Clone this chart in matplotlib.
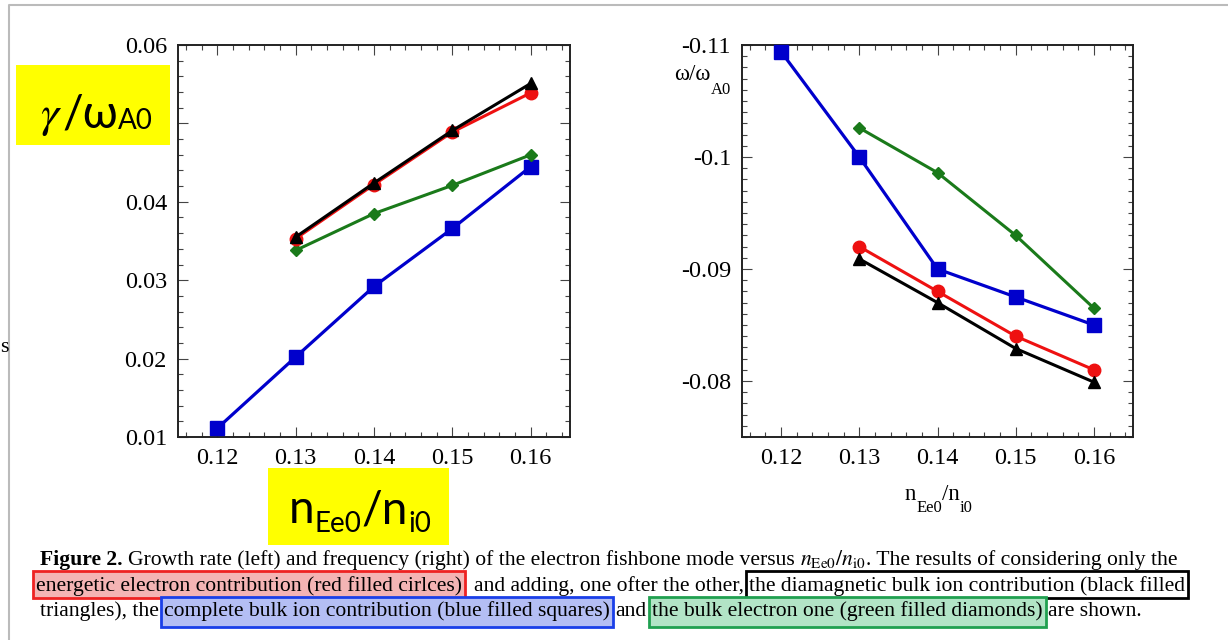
import matplotlib
matplotlib.use("Agg")
import matplotlib.pyplot as plt
from matplotlib.ticker import MultipleLocator, FuncFormatter
from matplotlib.patches import Rectangle
from matplotlib.lines import Line2D

# n_Ee0 / n_i0 values
x_all = [0.12, 0.13, 0.14, 0.15, 0.16]
x_short = [0.13, 0.14, 0.15, 0.16]

# growth rate gamma/omega_A0 (left)
gam_energetic = [0.0353, 0.0422, 0.0489, 0.0539]          # red circles
gam_diamag = [0.0355, 0.0424, 0.0491, 0.0551]             # black triangles
gam_bulk_ion = [0.0111, 0.0202, 0.0292, 0.0366, 0.0445]   # blue squares
gam_bulk_el = [0.0338, 0.0385, 0.0421, 0.0460]            # green diamonds

# frequency omega/omega_A0 (right)
om_energetic = [-0.0920, -0.0880, -0.0840, -0.0810]
om_diamag = [-0.0909, -0.0870, -0.0829, -0.0799]
om_bulk_ion = [-0.1094, -0.1000, -0.0900, -0.0875, -0.0850]
om_bulk_el = [-0.1026, -0.0986, -0.0930, -0.0865]

# tick label hidden behind the yellow box in the original
hidden_ticks = [0.05]

W, H = 1228, 640
plt.rcParams['font.family'] = ['Liberation Serif', 'DejaVu Sans']
plt.rcParams['mathtext.fontset'] = 'stix'
SANS = ['Lato', 'Open Sans', 'DejaVu Sans']

fig = plt.figure(figsize=(W / 100, H / 100), dpi=100)
renderer = fig.canvas.get_renderer()


def fx(px):
    return px / W


def fy(py):
    return 1 - py / H


def tick_fmt(v, p):
    v = round(v, 4)
    if v in hidden_ticks:
        return ''
    return '%g' % v


def style_axes(ax, ymin, ymax, yminor):
    ax.set_xlim(0.115, 0.165)
    ax.set_ylim(ymin, ymax)
    ax.xaxis.set_major_locator(MultipleLocator(0.01))
    ax.xaxis.set_minor_locator(MultipleLocator(0.002))
    ax.yaxis.set_major_locator(MultipleLocator(0.01))
    ax.yaxis.set_minor_locator(MultipleLocator(yminor))
    ax.xaxis.set_major_formatter(FuncFormatter(tick_fmt))
    ax.yaxis.set_major_formatter(FuncFormatter(tick_fmt))
    ax.tick_params(which='both', direction='in', top=True, right=True, labelsize=17.5,
                   colors='#444444', labelcolor='black')
    ax.tick_params(which='major', length=7, width=0.8)
    ax.tick_params(which='minor', length=3.5, width=0.8)
    ax.tick_params(axis='x', pad=8)
    ax.tick_params(axis='y', pad=8)
    for s in ax.spines.values():
        s.set_linewidth(1.4)
        s.set_color('#222222')


def draw_series(ax, blue, green, red, black):
    ax.plot(x_all, blue, '-s', color='#0000CC', lw=2.3, ms=9.5, clip_on=False, zorder=3)
    ax.plot(x_short, green, '-D', color='#1A7A1A', lw=2.2, ms=6.5, clip_on=False, zorder=3)
    ax.plot(x_short, red, '-o', color='#EE1111', lw=2.2, ms=9, clip_on=False, zorder=4)
    ax.plot(x_short, black, '-^', color='black', lw=2.2, ms=8.5, clip_on=False, zorder=5)


ax1 = fig.add_axes([fx(178), fy(437), fx(570) - fx(178), fy(45) - fy(437)])
style_axes(ax1, 0.01, 0.06, 0.002)
draw_series(ax1, gam_bulk_ion, gam_bulk_el, gam_energetic, gam_diamag)

ax2 = fig.add_axes([fx(742), fy(437), fx(1133) - fx(742), fy(45) - fy(437)])
style_axes(ax2, -0.075, -0.11, 0.001)
draw_series(ax2, om_bulk_ion, om_bulk_el, om_energetic, om_diamag)


def chain(pieces, x0):
    # pieces: (text, size, baseline_px, kwargs), laid out left to right
    x = x0
    for s, size, yb, kw in pieces:
        t = fig.text(fx(x), fy(yb), s, fontsize=size, va='baseline', zorder=6, **kw)
        x += t.get_window_extent(renderer).width
    return x


# right axis labels (plotting-program style with deep subscripts)
chain([('ω/ω', 16.5, 80, {}), ('A0', 12, 94, {})], 674)
chain([('n', 16.5, 500, {}), ('Ee0', 12, 512, {}), ('/n', 16.5, 500, {}), ('i0', 12, 512, {})], 905)

# yellow label boxes
fig.add_artist(Rectangle((fx(16), fy(145)), fx(170) - fx(16), fy(65) - fy(145),
                         transform=fig.transFigure, fc='#FFFF00', ec='none', zorder=5))
chain([(r'$\gamma$', 33, 127, {}), ('/ω', 33, 127, dict(family=SANS)),
       ('A0', 20, 129, dict(family=SANS))], 40)
fig.add_artist(Rectangle((fx(268), fy(545)), fx(449) - fx(268), fy(468) - fy(545),
                         transform=fig.transFigure, fc='#FFFF00', ec='none', zorder=5))
chain([('n', 33, 523, dict(family=SANS)), ('Ee0', 20, 532, dict(family=SANS)),
       ('/n', 33, 523, dict(family=SANS)), ('i0', 20, 532, dict(family=SANS))], 289)

# page frame and clipped letter from neighbouring text
fig.add_artist(Line2D([fx(9), fx(9), fx(1228)], [0, fy(5), fy(5)], transform=fig.transFigure,
                      color='#BBBBBB', lw=1.5))
fig.text(0.0005, fy(352), 's', fontsize=16)

# caption
line1 = [('Figure 2.', dict(weight='bold'), 0),
         ('Growth rate (left) and frequency (right) of the electron fishbone mode versus', {}, 1),
         (r'$n_{\mathrm{Ee0}}/n_{\mathrm{i0}}$', {}, 1),
         ('. The results of considering only the', {}, 0)]
line2 = [('energetic electron contribution (red filled cirlces)', {}, 0),
         ('and adding, one ofter the other,', {}, 2.2),
         ('the diamagnetic bulk ion contribution (black filled', {}, 1)]
line3 = [('triangles), the', {}, 0),
         ('complete bulk ion contribution (blue filled squares)', {}, 1),
         ('and', {}, 1),
         ('the bulk electron one (green filled diamonds)', {}, 1),
         ('are shown.', {}, 1)]


def width_of(s, size, **kw):
    t = fig.text(0, 0, s, fontsize=size, **kw)
    w = t.get_window_extent(renderer).width
    t.remove()
    return w


def place(pieces, x0, ybase, size):
    gap = width_of('a a', size) - width_of('aa', size)
    x = x0
    spans = []
    for s, kw, g in pieces:
        x += g * gap
        t = fig.text(fx(x), fy(ybase), s, fontsize=size, va='baseline', zorder=6, **kw)
        w = t.get_window_extent(renderer).width
        spans.append((x, x + w))
        x += w
    return spans


w10 = sum(width_of(s, 10, **kw) for s, kw, g in line1) + 2 * (width_of('a a', 10) - width_of('aa', 10))
cap_size = 10 * (1181 - 40) / w10

place(line1, 40, 565, cap_size)
sp2 = place(line2, 36, 591, cap_size)
sp3 = place(line3, 40, 616, cap_size)


def hbox(span, top, bot, fc, ec):
    x0, x1 = span[0] - 3, span[1] + 3
    fig.add_artist(Rectangle((fx(x0), fy(bot)), fx(x1) - fx(x0), fy(top) - fy(bot),
                             transform=fig.transFigure, fc=fc, ec=ec, lw=2, zorder=5))


hbox(sp2[0], 571, 598, '#F4B4B4', '#EE2222')
hbox(sp2[2], 571, 598, 'none', 'black')
hbox(sp3[1], 597, 627, '#B4BEF4', '#1A3FE8')
hbox(sp3[3], 597, 627, '#B2E4C6', '#20A050')

fig.savefig('out.png', dpi=100)
